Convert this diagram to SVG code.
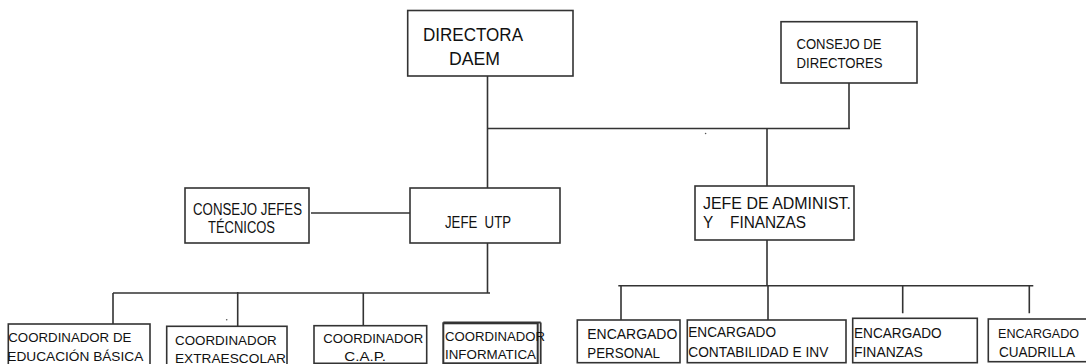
<svg xmlns="http://www.w3.org/2000/svg" width="1086" height="364" viewBox="0 0 1086 364">
<style>
.box{fill:#fff;stroke:#333;stroke-width:1.6}
.ln{fill:none;stroke:#333;stroke-width:1.6}
text{font-family:"Liberation Sans",Arial,sans-serif;fill:#111;white-space:pre}
.t18{font-size:18px}
.t16{font-size:16px}
.t15{font-size:15px}
.t14{font-size:14px}
.t13{font-size:13px}
</style>
<rect width="1086" height="364" fill="#fff"/>
<g id="connectors">
<path class="ln" d="M487.5 76V188M487.5 243V293M487.5 128.5H850M849 83V128.5M767 128.5V186"/>
<path class="ln" d="M311 213H410"/>
<path class="ln" d="M113 293H490M113 293V324M237.7 292V326.3M363.3 293V325.7"/>
<path class="ln" d="M767 240V286M618.3 285.8H1033.3M621 285.8V320M768 285.8V321.7M902.7 285.8V313.3M1029.3 285.8V313.3"/>
</g>
<circle cx="705.6" cy="133.5" r="0.8" fill="#555"/>
<circle cx="226.7" cy="319.7" r="0.8" fill="#555"/>
<g id="directora">
<rect class="box" x="407.7" y="10.5" width="165.3" height="65.5"/>
<text class="t18" x="423" y="41" textLength="100" lengthAdjust="spacingAndGlyphs">DIRECTORA</text>
<text class="t18" x="449" y="65" textLength="51" lengthAdjust="spacingAndGlyphs">DAEM</text>
</g>
<g id="consejo-directores">
<rect class="box" x="781" y="21.7" width="136" height="61.3"/>
<text class="t15" x="796.5" y="49" textLength="85" lengthAdjust="spacingAndGlyphs">CONSEJO DE</text>
<text class="t15" x="796.5" y="68" textLength="86" lengthAdjust="spacingAndGlyphs">DIRECTORES</text>
</g>
<g id="consejo-jefes">
<rect class="box" x="185" y="188" width="124" height="55"/>
<text class="t16" x="193" y="215" textLength="109" lengthAdjust="spacingAndGlyphs">CONSEJO JEFES</text>
<text class="t16" x="208" y="233" textLength="67" lengthAdjust="spacingAndGlyphs">TÉCNICOS</text>
</g>
<g id="jefe-utp">
<rect class="box" x="410" y="188" width="150" height="55"/>
<text class="t16" x="445" y="228" textLength="66" lengthAdjust="spacingAndGlyphs">JEFE  UTP</text>
</g>
<g id="jefe-admin">
<rect class="box" x="695" y="186" width="159" height="54"/>
<text class="t16" x="703" y="209" textLength="148" lengthAdjust="spacingAndGlyphs">JEFE DE ADMINIST.</text>
<text class="t16" x="703" y="228" textLength="103" lengthAdjust="spacingAndGlyphs">Y    FINANZAS</text>
</g>
<g id="coord-basica">
<rect class="box" x="8.3" y="324" width="141.7" height="44"/>
<text class="t13" x="8.3" y="342.3" textLength="123" lengthAdjust="spacingAndGlyphs">COORDINADOR DE</text>
<text class="t13" x="7.3" y="361" textLength="136" lengthAdjust="spacingAndGlyphs">EDUCACIÓN BÁSICA</text>
</g>
<g id="coord-extraescolar">
<rect class="box" x="166.7" y="326.3" width="120.3" height="42"/>
<text class="t13" x="175" y="344.7" textLength="101.7" lengthAdjust="spacingAndGlyphs">COORDINADOR</text>
<text class="t13" x="175" y="362.5" textLength="111" lengthAdjust="spacingAndGlyphs">EXTRAESCOLAR</text>
</g>
<g id="coord-cap">
<rect class="box" x="314" y="325.7" width="112.7" height="37.6"/>
<text class="t13" x="323.3" y="343" textLength="100" lengthAdjust="spacingAndGlyphs">COORDINADOR</text>
<text class="t13" x="344.3" y="361.3" textLength="41.7" lengthAdjust="spacingAndGlyphs">C.A.P.</text>
</g>
<g id="coord-informatica">
<rect class="box" x="443.3" y="323.3" width="94.4" height="40" style="stroke-width:2"/>
<path class="ln" d="M540.7 322.5V364M443.3 322.5H540.7" style="stroke-width:1.8"/>
<text class="t13" x="445" y="341" textLength="100" lengthAdjust="spacingAndGlyphs">COORDINADOR</text>
<text class="t13" x="445" y="359" textLength="91" lengthAdjust="spacingAndGlyphs">INFORMATICA</text>
</g>
<g id="enc-personal">
<rect class="box" x="577.3" y="320" width="102.7" height="42.7"/>
<text class="t14" x="587.3" y="339.3" textLength="90" lengthAdjust="spacingAndGlyphs">ENCARGADO</text>
<text class="t14" x="587.3" y="358.3" textLength="72.7" lengthAdjust="spacingAndGlyphs">PERSONAL</text>
</g>
<g id="enc-contabilidad">
<rect class="box" x="687.3" y="320" width="158.7" height="42.7"/>
<text class="t14" x="688.3" y="337.3" textLength="87.7" lengthAdjust="spacingAndGlyphs">ENCARGADO</text>
<text class="t14" x="688.3" y="357.3" textLength="140" lengthAdjust="spacingAndGlyphs">CONTABILIDAD E INV</text>
</g>
<g id="enc-finanzas">
<rect class="box" x="852.7" y="318.3" width="124.6" height="44.4"/>
<text class="t14" x="854" y="338.3" textLength="87.7" lengthAdjust="spacingAndGlyphs">ENCARGADO</text>
<text class="t14" x="854" y="356.7" textLength="68.7" lengthAdjust="spacingAndGlyphs">FINANZAS</text>
</g>
<g id="enc-cuadrilla">
<rect class="box" x="988.3" y="319" width="110" height="42.7"/>
<text class="t13" x="998" y="338.3" textLength="81" lengthAdjust="spacingAndGlyphs">ENCARGADO</text>
<text class="t14" x="999" y="357" textLength="76" lengthAdjust="spacingAndGlyphs">CUADRILLA</text>
</g>
</svg>
